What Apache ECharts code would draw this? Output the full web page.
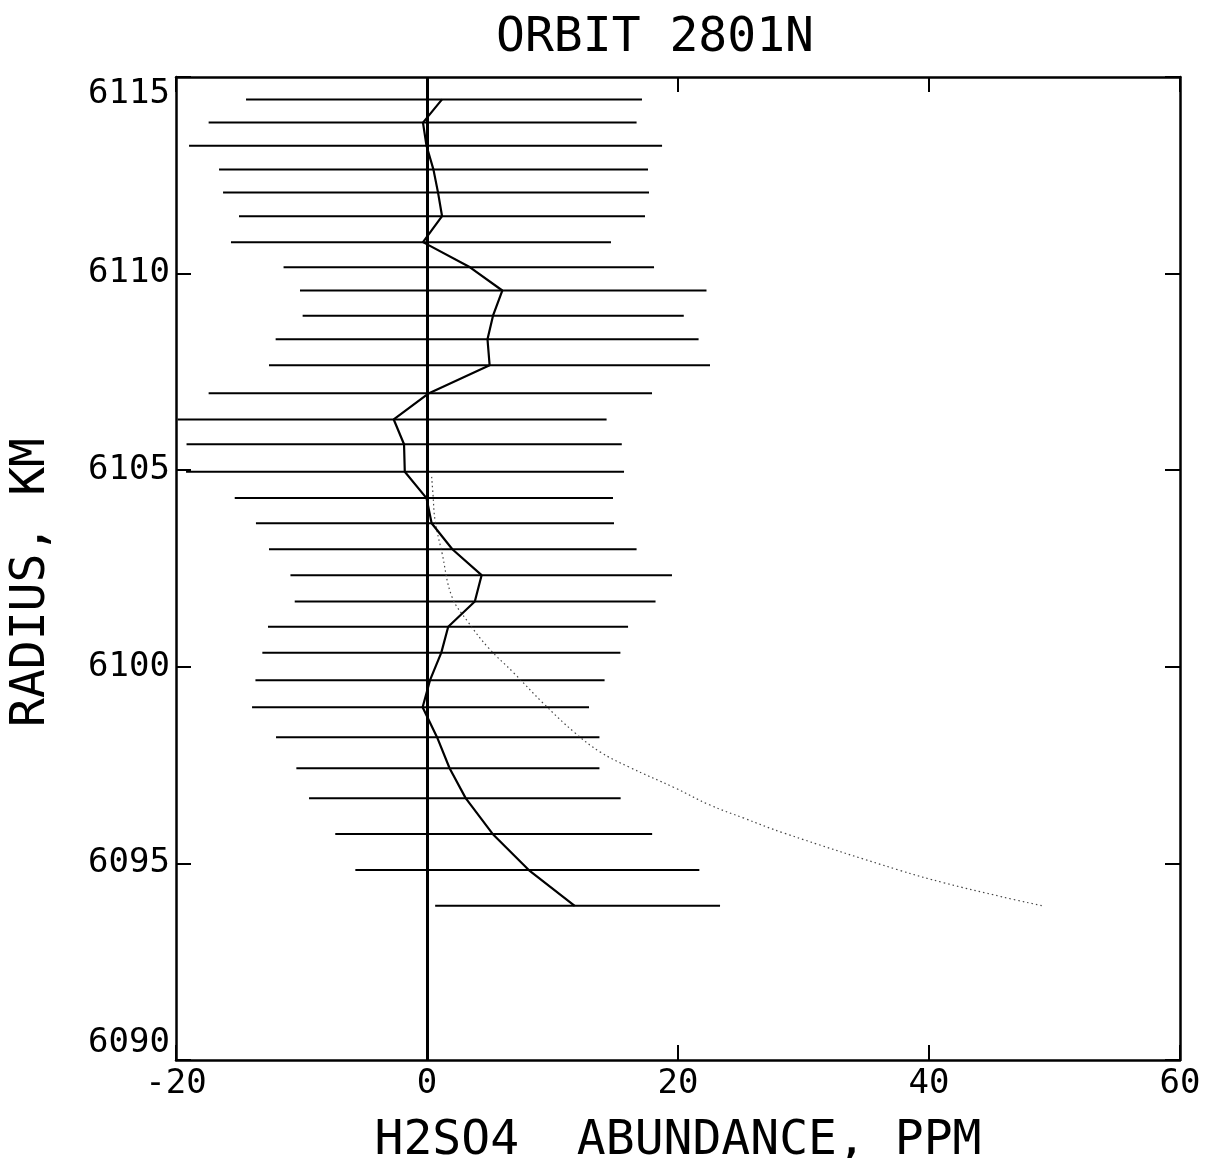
<!DOCTYPE html>
<html>
<head>
<meta charset="utf-8">
<script src="https://cdn.jsdelivr.net/npm/echarts@6/dist/echarts.min.js"></script>
<style>
  html, body { margin: 0; padding: 0; background: #fff; }
  #chart { width: 1210px; height: 1158px; }
</style>
</head>
<body>
<div id="chart"></div>
<script>
// Radius (km) of each retrieval level
const radius = [6114.43, 6113.84, 6113.25, 6112.65, 6112.06, 6111.46, 6110.80, 6110.16,
  6109.57, 6108.93, 6108.33, 6107.67, 6106.96, 6106.29, 6105.66, 6104.96,
  6104.29, 6103.65, 6102.99, 6102.33, 6101.66, 6101.02, 6100.36, 6099.66,
  6098.97, 6098.21, 6097.42, 6096.66, 6095.75, 6094.83, 6093.92];
// Retrieved H2SO4 abundance (ppm)
const abundance = [1.20, -0.32, -0.04, 0.51, 0.88, 1.20, -0.32, 3.43,
  6.00, 5.26, 4.82, 4.99, 0.16, -2.65, -1.83, -1.77,
  -0.04, 0.37, 2.02, 4.35, 3.81, 1.69, 1.14, 0.24,
  -0.35, 0.80, 1.80, 3.08, 5.23, 8.11, 11.77];
// Error bar lower / upper ends (ppm)
const errLow = [-14.42, -17.40, -18.96, -16.57, -16.25, -14.98, -15.62, -11.43,
  -10.12, -9.91, -12.06, -12.59, -17.40, -19.87, -19.16, -19.20,
  -15.32, -13.63, -12.59, -10.88, -10.54, -12.67, -13.12, -13.67,
  -13.94, -12.03, -10.41, -9.40, -7.31, -5.71, 0.65];
const errHigh = [17.13, 16.70, 18.73, 17.61, 17.69, 17.37, 14.66, 18.09,
  22.27, 20.46, 21.64, 22.55, 17.93, 14.31, 15.52, 15.70,
  14.82, 14.90, 16.70, 19.52, 18.21, 16.02, 15.41, 14.15,
  12.91, 13.74, 13.74, 15.43, 17.94, 21.70, 23.35];
// Dotted reference curve
const refAbund = [0.37, 0.48, 0.64, 1.20, 1.99, 3.27, 4.90, 6.93, 9.24, 11.79,
  13.82, 16.10, 19.76, 22.50, 25.26, 28.45, 37.60, 41.27, 45.82, 49.05];
const refRadius = [6104.83, 6104.37, 6103.73, 6102.89, 6101.78, 6101.14, 6100.48, 6099.84,
  6099.08, 6098.32, 6097.83, 6097.45, 6096.92, 6096.49, 6096.15, 6095.77,
  6094.83, 6094.50, 6094.15, 6093.92];
// Axis ticks
const xTicks = { min: -20, max: 60, step: 20 };
const yTicks = { min: 6090, max: 6115, step: 5 };

const FONT = '"DejaVu Sans Mono", "Liberation Mono", monospace';

const errData = radius.map((r, i) => [r, errLow[i], errHigh[i]]);
const profData = radius.map((r, i) => [abundance[i], r]);
const refData = refRadius.map((r, i) => [refAbund[i], r]);

const chart = echarts.init(document.getElementById('chart'), null, { renderer: 'canvas' });

const axisCommon = {
  type: 'value',
  splitLine: { show: false },
  axisLine: { show: true, onZero: false, lineStyle: { color: '#000', width: 2.5 } },
  axisTick: { show: true, inside: true, length: 15, lineStyle: { color: '#000', width: 2 } }
};

chart.setOption({
  animation: false,
  backgroundColor: '#fff',
  title: {
    text: 'ORBIT 2801N',
    left: 650,
    top: 10,
    textAlign: 'center',
    textStyle: { fontFamily: FONT, fontSize: 48, fontWeight: 'normal', color: '#000' }
  },
  grid: { left: 176, right: 30, top: 77, bottom: 98, outerBoundsMode: 'none', containLabel: false },
  xAxis: [
    Object.assign({}, axisCommon, {
      min: xTicks.min, max: xTicks.max, interval: xTicks.step, position: 'bottom',
      name: 'H2SO4  ABUNDANCE, PPM', nameLocation: 'middle', nameGap: 58,
      nameTextStyle: { fontFamily: FONT, fontSize: 48, color: '#000' },
      axisLabel: { margin: 7, fontFamily: FONT, fontSize: 34, color: '#000',
        formatter: function (v) { return String(v); } }
    }),
    Object.assign({}, axisCommon, {
      min: xTicks.min, max: xTicks.max, interval: xTicks.step, position: 'top',
      axisLabel: { show: false }
    })
  ],
  yAxis: [
    Object.assign({}, axisCommon, {
      min: yTicks.min, max: yTicks.max, interval: yTicks.step, position: 'left',
      name: 'RADIUS, KM', nameLocation: 'middle', nameGap: 120, nameRotate: 90,
      nameTextStyle: { fontFamily: FONT, fontSize: 48, color: '#000', padding: [0, 28, 0, 0] },
      axisLabel: { margin: 6, fontFamily: FONT, fontSize: 34, color: '#000',
        verticalAlignMinLabel: 'bottom', verticalAlignMaxLabel: 'top',
        formatter: function (v) { return String(v); } }
    }),
    Object.assign({}, axisCommon, {
      min: yTicks.min, max: yTicks.max, interval: yTicks.step, position: 'right',
      axisLabel: { show: false }
    })
  ],
  series: [
    {
      type: 'custom',
      name: 'error',
      xAxisIndex: 0, yAxisIndex: 0,
      data: errData,
      encode: { x: [1, 2], y: 0 },
      renderItem: function (params, api) {
        const r = api.value(0);
        const a = api.coord([api.value(1), r]);
        const b = api.coord([api.value(2), r]);
        return {
          type: 'line',
          shape: { x1: a[0], y1: a[1], x2: b[0], y2: b[1] },
          style: { stroke: '#000', lineWidth: 2 }
        };
      },
      silent: true,
      z: 2
    },
    {
      type: 'line',
      name: 'reference',
      data: refData,
      showSymbol: false,
      smooth: 0.4,
      lineStyle: { color: '#444', width: 1.2, type: [1.5, 3] },
      silent: true,
      z: 3
    },
    {
      type: 'line',
      name: 'profile',
      data: profData,
      showSymbol: false,
      lineStyle: { color: '#000', width: 2.2 },
      silent: true,
      z: 4,
      markLine: {
        silent: true,
        symbol: 'none',
        label: { show: false },
        lineStyle: { color: '#000', width: 3, type: 'solid' },
        data: [{ xAxis: 0 }]
      }
    }
  ]
});
</script>
</body>
</html>
